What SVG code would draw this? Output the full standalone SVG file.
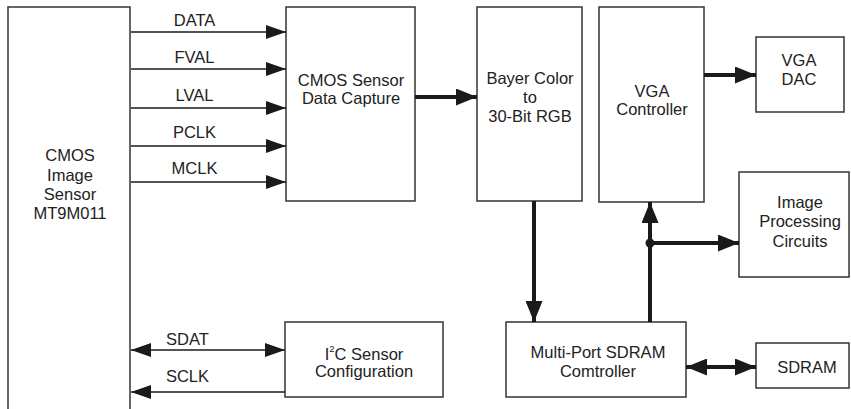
<svg xmlns="http://www.w3.org/2000/svg" width="851" height="409" viewBox="0 0 851 409">
  <style>
    .box { fill: #ffffff; stroke: #333333; stroke-width: 1.5; }
    .t { font-family: "Liberation Sans", Arial, sans-serif; font-size: 16.5px; fill: #222222; text-anchor: middle; }
    .thin { stroke: #1a1a1a; stroke-width: 1.5; fill: none; }
    .thick { stroke: #1a1a1a; stroke-width: 4; fill: none; }
  </style>
  <defs>
    <marker id="ah" markerUnits="userSpaceOnUse" markerWidth="20" markerHeight="14" refX="20" refY="7" orient="auto-start-reverse">
      <path d="M0,0 L20,7 L0,14 z" fill="#1a1a1a"/>
    </marker>
    <marker id="ahb" markerUnits="userSpaceOnUse" markerWidth="21" markerHeight="17" refX="21" refY="8.5" orient="auto-start-reverse">
      <path d="M0,0 L21,8.5 L0,17 z" fill="#1a1a1a"/>
    </marker>
  </defs>
  <rect width="851" height="409" fill="#ffffff"/>

  <g id="sensor">
    <rect class="box" x="8" y="7" width="122" height="420"/>
    <text class="t" x="70" y="161">CMOS</text>
    <text class="t" x="70" y="181">Image</text>
    <text class="t" x="70" y="200">Sensor</text>
    <text class="t" x="70" y="219">MT9M011</text>
  </g>

  <g id="capture">
    <rect class="box" x="286" y="7" width="129" height="194"/>
    <text class="t" x="351" y="86">CMOS Sensor</text>
    <text class="t" x="351" y="104">Data Capture</text>
  </g>

  <g id="bayer">
    <rect class="box" x="477" y="7" width="105" height="194"/>
    <text class="t" x="530" y="84">Bayer Color</text>
    <text class="t" x="530" y="103">to</text>
    <text class="t" x="530" y="122">30-Bit RGB</text>
  </g>

  <g id="vga-controller">
    <rect class="box" x="599" y="7" width="105" height="195"/>
    <text class="t" x="652" y="97">VGA</text>
    <text class="t" x="652" y="115">Controller</text>
  </g>

  <g id="vga-dac">
    <rect class="box" x="756" y="37" width="88" height="75"/>
    <text class="t" x="799" y="66">VGA</text>
    <text class="t" x="799" y="85">DAC</text>
  </g>

  <g id="image-processing">
    <rect class="box" x="739" y="172" width="110" height="105"/>
    <text class="t" x="800" y="208">Image</text>
    <text class="t" x="800" y="227">Processing</text>
    <text class="t" x="800" y="247">Circuits</text>
  </g>

  <g id="i2c-config">
    <rect class="box" x="285" y="322" width="158" height="75"/>
    <text class="t" x="364" y="360">I<tspan font-size="9.5" dy="-8">2</tspan><tspan dy="8">C Sensor</tspan></text>
    <text class="t" x="364" y="377">Configuration</text>
  </g>

  <g id="sdram-controller">
    <rect class="box" x="506" y="322" width="180" height="75"/>
    <text class="t" x="598" y="358">Multi-Port SDRAM</text>
    <text class="t" x="598" y="377">Comtroller</text>
  </g>

  <g id="sdram">
    <rect class="box" x="756" y="343" width="93" height="45"/>
    <text class="t" x="807" y="373">SDRAM</text>
  </g>

  <g id="connectors">
    <line class="thin" x1="131" y1="32" x2="286" y2="32" marker-end="url(#ah)"/>
    <line class="thin" x1="131" y1="69" x2="286" y2="69" marker-end="url(#ah)"/>
    <line class="thin" x1="131" y1="108" x2="286" y2="108" marker-end="url(#ah)"/>
    <line class="thin" x1="131" y1="146" x2="286" y2="146" marker-end="url(#ah)"/>
    <line class="thin" x1="131" y1="182" x2="286" y2="182" marker-end="url(#ah)"/>
    <line class="thin" x1="131" y1="350" x2="285" y2="350" marker-start="url(#ah)" marker-end="url(#ah)"/>
    <line class="thin" x1="285" y1="392" x2="131" y2="392" marker-end="url(#ah)"/>

    <line class="thick" x1="415" y1="97" x2="477" y2="97" marker-end="url(#ahb)"/>
    <line class="thick" x1="534" y1="201" x2="534" y2="322" marker-end="url(#ahb)"/>
    <line class="thick" x1="704" y1="75" x2="756" y2="75" marker-end="url(#ahb)"/>
    <line class="thick" x1="650" y1="322" x2="650" y2="202" marker-end="url(#ahb)"/>
    <line class="thick" x1="650" y1="243" x2="739" y2="243" marker-end="url(#ahb)"/>
    <circle cx="650" cy="243" r="4.5" fill="#1a1a1a"/>
    <line class="thick" x1="686" y1="367" x2="756" y2="367" marker-start="url(#ahb)" marker-end="url(#ahb)"/>

    <text class="t" x="194.5" y="26">DATA</text>
    <text class="t" x="194.5" y="63">FVAL</text>
    <text class="t" x="194.5" y="101">LVAL</text>
    <text class="t" x="194.5" y="138">PCLK</text>
    <text class="t" x="194.5" y="174">MCLK</text>
    <text class="t" x="187.5" y="345">SDAT</text>
    <text class="t" x="187.5" y="382">SCLK</text>
  </g>
</svg>
